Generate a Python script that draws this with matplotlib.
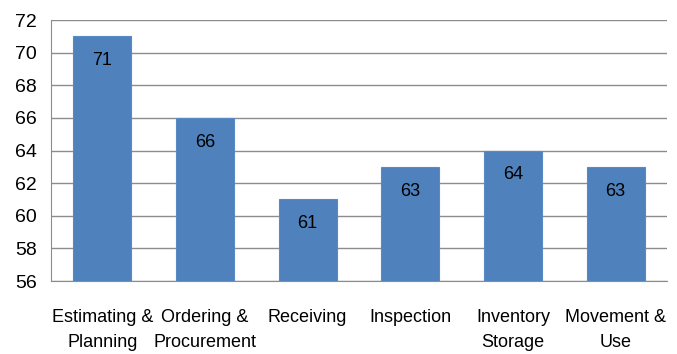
import matplotlib.pyplot as plt
import numpy as np
from matplotlib import font_manager

# Process stages and scores
categories = ["Estimating &\nPlanning", "Ordering &\nProcurement", "Receiving",
              "Inspection", "Inventory\nStorage", "Movement &\nUse"]
values = [71, 66, 61, 63, 64, 63]
yticks = [56, 58, 60, 62, 64, 66, 68, 70, 72]

names = {f.name for f in font_manager.fontManager.ttflist}
font = "Liberation Sans Narrow" if "Liberation Sans Narrow" in names else "Liberation Sans"
plt.rcParams["font.family"] = [font, "DejaVu Sans"]

fig = plt.figure(figsize=(6.77, 3.54), dpi=100)
ax = fig.add_axes([0.0753, 0.206, 0.9097, 0.7375])

x = np.arange(len(categories))
bars = ax.bar(x, values, width=0.565, bottom=0, color="#4F81BD",
              edgecolor="#5A8AC6", linewidth=0.8, zorder=3)

for b, v in zip(bars, values):
    ax.annotate(str(v), (b.get_x() + b.get_width() / 2, v),
                xytext=(0, -17.5), textcoords="offset points",
                ha="center", va="center", fontsize=13, color="black", zorder=4)

ax.set_ylim(56, 72)
ax.set_xlim(-0.5, len(categories) - 0.5)
ax.set_yticks(yticks)
ax.set_yticklabels([str(t) for t in yticks], fontsize=14)
ax.set_xticks(x)
ax.set_xticklabels(categories, fontsize=13, linespacing=1.6)
ax.tick_params(axis="both", length=0)
ax.tick_params(axis="x", pad=20)
ax.tick_params(axis="y", pad=10)

ax.yaxis.grid(True, color="#8C8C8C", linewidth=1.0, zorder=0)
for s in ["top", "right"]:
    ax.spines[s].set_visible(False)
ax.spines["left"].set_color("#8C8C8C")
ax.spines["bottom"].set_color("#8C8C8C")

fig.savefig("out.png", dpi=100)
